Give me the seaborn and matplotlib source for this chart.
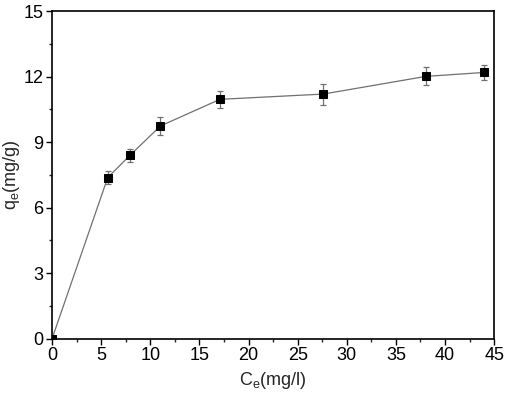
import numpy as np
import pandas as pd
import matplotlib
matplotlib.use("Agg")
import matplotlib.pyplot as plt
import seaborn as sns
from matplotlib.ticker import MultipleLocator

ce = [0, 5.67, 7.94, 11.03, 17.1, 27.6, 38.05, 44.0]
qe = [0, 7.38, 8.40, 9.74, 10.96, 11.2, 12.01, 12.19]
err = [0, 0.30, 0.29, 0.39, 0.40, 0.48, 0.41, 0.33]

df = pd.DataFrame({"ce": ce, "qe": qe, "err": err})

sns.set_style("ticks")
plt.rcParams['font.family'] = ['Liberation Sans', 'DejaVu Sans']
plt.rcParams['mathtext.fontset'] = 'custom'
plt.rcParams['mathtext.rm'] = 'Liberation Sans'

fig = plt.figure(figsize=(5.1, 3.94), dpi=100)
ax = fig.add_axes([0.102, 0.14, 0.867, 0.832])

# error bars first, then the line + markers on top
ax.errorbar(df["ce"][1:], df["qe"][1:], yerr=df["err"][1:], fmt="none",
            ecolor="#707070", elinewidth=0.9, capsize=2.5, capthick=0.9, zorder=2)
sns.lineplot(data=df, x="ce", y="qe", ax=ax, color="#707070", linewidth=0.9,
             marker="s", markersize=5.5, markerfacecolor="black",
             markeredgecolor="black", zorder=3)

ax.set_xlim(0, 45)
ax.set_ylim(0, 15)
ax.xaxis.set_major_locator(MultipleLocator(5))
ax.xaxis.set_minor_locator(MultipleLocator(2.5))
ax.yaxis.set_major_locator(MultipleLocator(3))
ax.yaxis.set_minor_locator(MultipleLocator(1.5))
ax.tick_params(which="major", direction="out", length=4, width=1, labelsize=13, colors="black", pad=2)
ax.tick_params(which="minor", direction="out", length=2, width=1)
ax.tick_params(top=False, right=False, which="both")

for s in ax.spines.values():
    s.set_visible(True)
    s.set_linewidth(1.2)
    s.set_color("black")

ax.set_xlabel(r"C$_{\mathregular{e}}$(mg/l)", fontsize=13, labelpad=4)
ax.set_ylabel(r"q$_{\mathregular{e}}$(mg/g)", fontsize=13, labelpad=1.5)

fig.savefig("out.png", dpi=100)
